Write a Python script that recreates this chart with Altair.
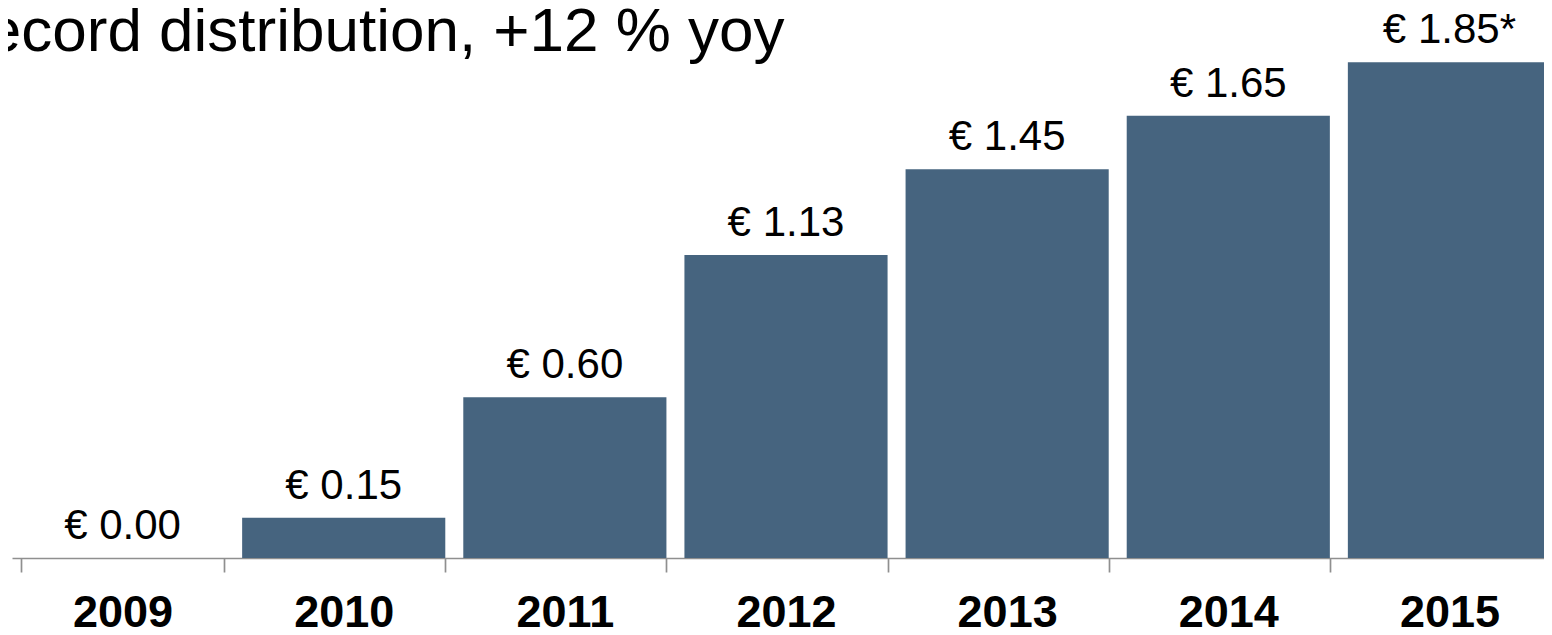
import altair as alt
import pandas as pd

years = ["2009", "2010", "2011", "2012", "2013", "2014", "2015"]
values = [0.00, 0.15, 0.60, 1.13, 1.45, 1.65, 1.85]
labels = ["€ 0.00", "€ 0.15", "€ 0.60", "€ 1.13", "€ 1.45", "€ 1.65", "€ 1.85*"]
title_text = ["Record distribution, +12 % yoy"]

df = pd.DataFrame({"year": years, "value": values, "label": labels})
tdf = pd.DataFrame({"t": title_text})

FONT = "Liberation Sans"
BAR = "#46647f"
AXIS_GRAY = "#8f8f8f"

xscale = alt.Scale(range=[0, 1548], paddingInner=0.0814, paddingOuter=0.0407)
yscale = alt.Scale(domain=[0, 2.052], nice=False, zero=True)

xaxis = alt.Axis(
    title=None,
    labelFont=FONT,
    labelFontSize=45,
    labelFontWeight="bold",
    labelColor="#000000",
    labelBaseline="alphabetic",
    labelPadding=54,
    labelAngle=0,
    tickBand="extent",
    tickSize=14,
    tickColor=AXIS_GRAY,
    tickWidth=1.7,
    domainColor=AXIS_GRAY,
    domainWidth=1.7,
    grid=False,
)

base = alt.Chart(df)

bars = base.mark_bar(color=BAR).encode(
    x=alt.X("year:N", scale=xscale, axis=xaxis, sort=years),
    y=alt.Y("value:Q", scale=yscale, axis=None),
)

text = base.mark_text(
    font=FONT, fontSize=42, color="#000000", baseline="alphabetic", dy=-19
).encode(
    x=alt.X("year:N", scale=xscale, sort=years, axis=xaxis),
    y=alt.Y("value:Q", scale=yscale, axis=None),
    text="label:N",
)

title = alt.Chart(tdf).mark_text(
    font=FONT, fontSize=62, color="#000000", align="left", baseline="alphabetic"
).encode(
    text="t:N",
    x=alt.value(-70),
    y=alt.value(43),
)

chart = (
    alt.layer(bars, text, title)
    .properties(
        width=1532,
        height=550,
        autosize=alt.AutoSizeParams(type="none"),
        padding={"left": 4, "top": 0, "right": 0, "bottom": 77},
    )
    .configure_view(strokeWidth=0, stroke="transparent")
)

chart.save("out.html", embed_options={"renderer": "svg", "actions": False})
